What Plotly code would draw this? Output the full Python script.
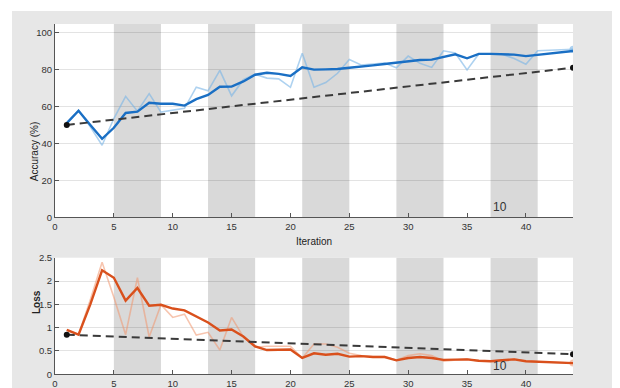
import plotly.graph_objects as go

iterations = list(range(1, 45))
acc_raw = [51, 58, 49, 39, 53.5, 65.5, 57.5, 67, 57, 58, 59, 70.5, 68.5, 79.6, 65.8, 74.5,
           77.5, 75.4, 75, 70.4, 88.8, 70.5, 73, 78, 85.5, 82.5, 83, 83.6, 81, 87.3,
           83.4, 81.2, 90.2, 89, 79.8, 88.5, 88.5, 88.3, 86, 82.9, 90.2, 90.4, 90.5, 91]
acc_smooth = [51, 57.7, 50, 42.5, 48.5, 56.5, 57.2, 62, 61.5, 61.5, 60.5, 64, 66.3, 70.7,
              70.8, 73.6, 77.2, 78.3, 77.7, 76.6, 81.3, 80, 80.1, 80.3, 81, 81.5, 82.3,
              83, 83.8, 84.6, 85.2, 85.4, 87, 88.3, 86.1, 88.5, 88.5, 88.5, 88.1, 87.3,
              88.1, 88.8, 89.5, 90.1]
loss_raw = [0.95, 0.85, 1.6, 2.4, 1.65, 0.85, 2.07, 0.8, 1.49, 1.22, 1.29, 0.84, 0.9, 0.52,
            1.22, 0.8, 0.58, 0.6, 0.6, 0.6, 0.35, 0.65, 0.65, 0.58, 0.45, 0.4, 0.38, 0.38,
            0.3, 0.4, 0.44, 0.4, 0.28, 0.3, 0.33, 0.28, 0.28, 0.31, 0.33, 0.28, 0.27, 0.25,
            0.24, 0.24]
loss_smooth = [0.95, 0.85, 1.5, 2.23, 2.07, 1.58, 1.85, 1.47, 1.49, 1.41, 1.37, 1.24, 1.11,
               0.94, 0.96, 0.81, 0.6, 0.52, 0.53, 0.53, 0.35, 0.45, 0.42, 0.44, 0.38, 0.39,
               0.37, 0.37, 0.30, 0.35, 0.37, 0.35, 0.31, 0.31, 0.32, 0.29, 0.28, 0.30, 0.32,
               0.28, 0.27, 0.25, 0.24, 0.24]
baseline_x = [1, 44]
acc_baseline = [50, 81]
loss_baseline = [0.85, 0.43]
band_starts = [5, 13, 21, 29, 37]
band_width = 4
epoch_label = "10"
epoch_label_x = 37.8
acc_ticks = [0, 20, 40, 60, 80, 100]
loss_ticks = [0, 0.5, 1, 1.5, 2, 2.5]
loss_ticktext = ["0", "0.5", "1", "1.5", "2", "2.5"]
x_ticks = [0, 5, 10, 15, 20, 25, 30, 35, 40]

W, H = 620, 388
OFF = 8  # page body offset of the figure


def px(x):
    return (x - OFF) / W


def py(y):
    return 1 - (y - OFF) / H


FONT = "Liberation Sans, Arial, sans-serif"
BLUE = "#1a6fc4"
LBLUE = "rgba(120,180,230,0.6)"
ORANGE = "#d9501c"
LORANGE = "rgba(240,150,110,0.55)"
DASH = "#3a3a3a"

fig = go.Figure()


def add_panel(row_x, row_y, raw, smooth, base, lcol, dcol):
    fig.add_trace(go.Scatter(x=iterations, y=raw, mode="lines", line=dict(color=lcol, width=1.6),
                             xaxis=row_x, yaxis=row_y, showlegend=False, hoverinfo="skip"))
    fig.add_trace(go.Scatter(x=[iterations[-1]], y=[raw[-1]], mode="markers",
                             marker=dict(color=lcol, size=7), xaxis=row_x, yaxis=row_y,
                             showlegend=False, hoverinfo="skip"))
    fig.add_trace(go.Scatter(x=iterations, y=smooth, mode="lines", line=dict(color=dcol, width=2.4),
                             xaxis=row_x, yaxis=row_y, showlegend=False))
    fig.add_trace(go.Scatter(x=baseline_x, y=base, mode="lines+markers",
                             line=dict(color=DASH, width=2, dash="8px,5px"),
                             marker=dict(color="#111111", size=6),
                             xaxis=row_x, yaxis=row_y, showlegend=False))


add_panel("x", "y", acc_raw, acc_smooth, acc_baseline, LBLUE, BLUE)
add_panel("x2", "y2", loss_raw, loss_smooth, loss_baseline, LORANGE, ORANGE)

shapes = []
# page background: gray panel with white margins
shapes.append(dict(type="rect", xref="paper", yref="paper", x0=px(0), x1=px(12), y0=0, y1=1,
                   fillcolor="white", line=dict(width=0), layer="below"))
shapes.append(dict(type="rect", xref="paper", yref="paper", x0=0, x1=1, y0=py(11), y1=1,
                   fillcolor="white", line=dict(width=0), layer="below"))
shapes.append(dict(type="rect", xref="paper", yref="paper", x0=px(617), x1=1, y0=0, y1=1,
                   fillcolor="white", line=dict(width=0), layer="below"))
shapes.append(dict(type="line", xref="paper", yref="paper", x0=px(616.5), x1=px(616.5),
                   y0=0, y1=py(11), line=dict(color="#cfcfcf", width=1), layer="below"))
for xa, ya in [("x", "y"), ("x2", "y2")]:
    for s in band_starts:
        shapes.append(dict(type="rect", xref=xa, yref=ya + " domain", x0=s, x1=s + band_width,
                           y0=0, y1=1, fillcolor="#d9d9d9", line=dict(width=0), layer="below"))

xdom = [px(55), px(573)]
axis_common = dict(showline=True, linecolor="#555555", linewidth=1, ticks="inside", ticklen=4,
                   tickcolor="#555555", tickfont=dict(family=FONT, size=9.5, color="#333333"),
                   zeroline=False, automargin=False)

fig.update_layout(
    width=W, height=H, margin=dict(l=0, r=0, t=0, b=0, autoexpand=False),
    paper_bgcolor="#e7e7e7", plot_bgcolor="white",
    shapes=shapes,
    xaxis=dict(domain=xdom, range=[0, 44], tickvals=x_ticks, showgrid=False, anchor="y",
               **axis_common),
    yaxis=dict(domain=[py(217.3), py(24)], range=[0, 104.7], tickvals=acc_ticks,
               showgrid=True, gridcolor="rgba(0,0,0,0.11)", anchor="x", **axis_common),
    xaxis2=dict(domain=xdom, range=[0, 44], tickvals=x_ticks, showgrid=False, anchor="y2",
                **axis_common),
    yaxis2=dict(domain=[py(374.3), py(257.7)], range=[0, 2.5], tickvals=loss_ticks,
                ticktext=loss_ticktext, showgrid=True, gridcolor="rgba(0,0,0,0.11)", anchor="x2",
                **axis_common),
    annotations=[
        dict(text="Accuracy (%)", xref="paper", yref="paper", x=px(26.7), y=py(120.5),
             textangle=-90, showarrow=False, font=dict(family=FONT, size=10, color="#222222")),
        dict(text="Iteration", xref="paper", yref="paper", x=px(313.5), y=py(241.5),
             showarrow=False, font=dict(family=FONT, size=10, color="#222222")),
        dict(text="<b>Loss</b>", xref="paper", yref="paper", x=px(29), y=py(316.5),
             textangle=-90, showarrow=False, font=dict(family=FONT, size=10, color="#222222")),
        dict(text=epoch_label, xref="x", yref="y", x=epoch_label_x, y=5.5, showarrow=False,
             font=dict(family=FONT, size=12, color="#333333")),
        dict(text=epoch_label, xref="x2", yref="y2", x=epoch_label_x, y=0.185, showarrow=False,
             font=dict(family=FONT, size=12, color="#333333")),
    ],
)

fig.write_html("out.html")
